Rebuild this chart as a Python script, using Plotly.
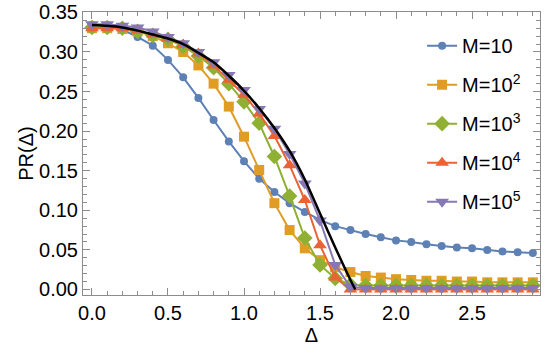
import plotly.graph_objects as go

_FONT = "Liberation Sans, Arial, sans-serif"
_FRAME = "#8c8c8c"

delta = [0.0, 0.1, 0.2, 0.3, 0.4, 0.5, 0.6, 0.7, 0.8, 0.9,
         1.0, 1.1, 1.2, 1.3, 1.4, 1.5, 1.6, 1.7, 1.8, 1.9,
         2.0, 2.1, 2.2, 2.3, 2.4, 2.5, 2.6, 2.7, 2.8, 2.9]

pr_m1 = [0.334, 0.333, 0.328, 0.319, 0.308, 0.290, 0.268, 0.242, 0.214, 0.187,
         0.162, 0.140, 0.123, 0.109, 0.098, 0.088, 0.080, 0.075, 0.070, 0.066,
         0.062, 0.060, 0.057, 0.055, 0.053, 0.052, 0.050, 0.048, 0.047, 0.046]
pr_m2 = [0.330, 0.330, 0.329, 0.326, 0.320, 0.311, 0.300, 0.283, 0.260, 0.231,
         0.193, 0.151, 0.109, 0.075, 0.052, 0.037, 0.028, 0.022, 0.017, 0.015,
         0.013, 0.012, 0.011, 0.011, 0.010, 0.010, 0.009, 0.009, 0.009, 0.009]
pr_m3 = [0.331, 0.331, 0.330, 0.326, 0.321, 0.316, 0.307, 0.295, 0.280, 0.260,
         0.237, 0.210, 0.168, 0.118, 0.065, 0.031, 0.014, 0.006, 0.005, 0.005,
         0.005, 0.005, 0.005, 0.005, 0.005, 0.005, 0.005, 0.005, 0.005, 0.005]
pr_m4 = [0.330, 0.330, 0.330, 0.327, 0.322, 0.317, 0.309, 0.298, 0.283, 0.265,
         0.246, 0.222, 0.194, 0.157, 0.113, 0.056, 0.015, 0.000, 0.000, 0.000,
         0.000, 0.000, 0.000, 0.000, 0.000, 0.000, 0.000, 0.000, 0.000, 0.000]
pr_m5 = [0.335, 0.335, 0.333, 0.331, 0.326, 0.319, 0.311, 0.300, 0.287, 0.271,
         0.252, 0.228, 0.203, 0.171, 0.134, 0.087, 0.031, 0.003, 0.002, 0.002,
         0.002, 0.002, 0.002, 0.002, 0.002, 0.002, 0.002, 0.002, 0.002, 0.002]

# analytic large-M curve
delta_th = [0.0, 0.1, 0.2, 0.3, 0.4, 0.5, 0.6, 0.7, 0.8, 0.9,
            1.0, 1.1, 1.2, 1.3, 1.4, 1.5, 1.6, 1.7, 1.732]
pr_th = [0.334, 0.333, 0.331, 0.327, 0.322, 0.317, 0.310, 0.299, 0.287, 0.270,
         0.251, 0.229, 0.204, 0.175, 0.139, 0.096, 0.053, 0.012, 0.0]

series = [
    ("M=10",             pr_m1, "#5E81B5", "circle",        8),
    ("M=10<sup>2</sup>", pr_m2, "#E19C24", "square",        10),
    ("M=10<sup>3</sup>", pr_m3, "#8FB032", "diamond",       12),
    ("M=10<sup>4</sup>", pr_m4, "#EB6235", "triangle-up",   12),
    ("M=10<sup>5</sup>", pr_m5, "#8778B3", "triangle-down", 12),
]

fig = go.Figure()
for i, (name, ys, color, symbol, size) in enumerate(series):
    fig.add_trace(go.Scatter(
        x=delta, y=ys, name=name, mode="lines+markers",
        line=dict(color=color, width=2),
        marker=dict(color=color, symbol=symbol, size=size, line=dict(width=0)),
        legendgroup=f"g{i}",
    ))

fig.add_trace(go.Scatter(
    x=delta_th, y=pr_th, mode="lines", showlegend=False,
    line=dict(color="black", width=2.5, shape="spline", smoothing=0.6),
))

axis_common = dict(
    showline=True, linecolor=_FRAME, linewidth=1, mirror="allticks",
    ticks="inside", ticklen=7, tickcolor=_FRAME, tickwidth=1,
    showgrid=False, zeroline=False, automargin=False,
    tickfont=dict(size=20, color="black", family=_FONT),
)

fig.update_xaxes(
    **axis_common,
    range=[-0.059, 2.947], dtick=0.5, tick0=0, tickformat=".1f",
    minor=dict(ticks="inside", ticklen=4, tickcolor=_FRAME, dtick=0.1, tick0=0),
    title=dict(text="Δ", font=dict(size=20, color="black", family=_FONT), standoff=3),
)
fig.update_yaxes(
    **axis_common,
    range=[-0.007, 0.3505], dtick=0.05, tick0=0, tickformat=".2f",
    minor=dict(ticks="inside", ticklen=4, tickcolor=_FRAME, dtick=0.01, tick0=0),
    title=dict(text="PR(Δ)", font=dict(size=20, color="black", family=_FONT), standoff=0),
)

fig.update_layout(
    width=545, height=362,
    template="simple_white",
    paper_bgcolor="white", plot_bgcolor="white",
    font=dict(family=_FONT, color="black"),
    margin=dict(l=83, r=5, t=12, b=67),
    legend=dict(
        x=0.742, y=0.95, xanchor="left", yanchor="top",
        font=dict(size=20, family=_FONT, color="black"),
        bgcolor="rgba(255,255,255,0)", tracegroupgap=10,
    ),
)

# drop the default page margin so the figure sits at the window origin
fig.write_html("out.html", config={"displayModeBar": False},
               post_script="document.body.style.margin = '0';")
